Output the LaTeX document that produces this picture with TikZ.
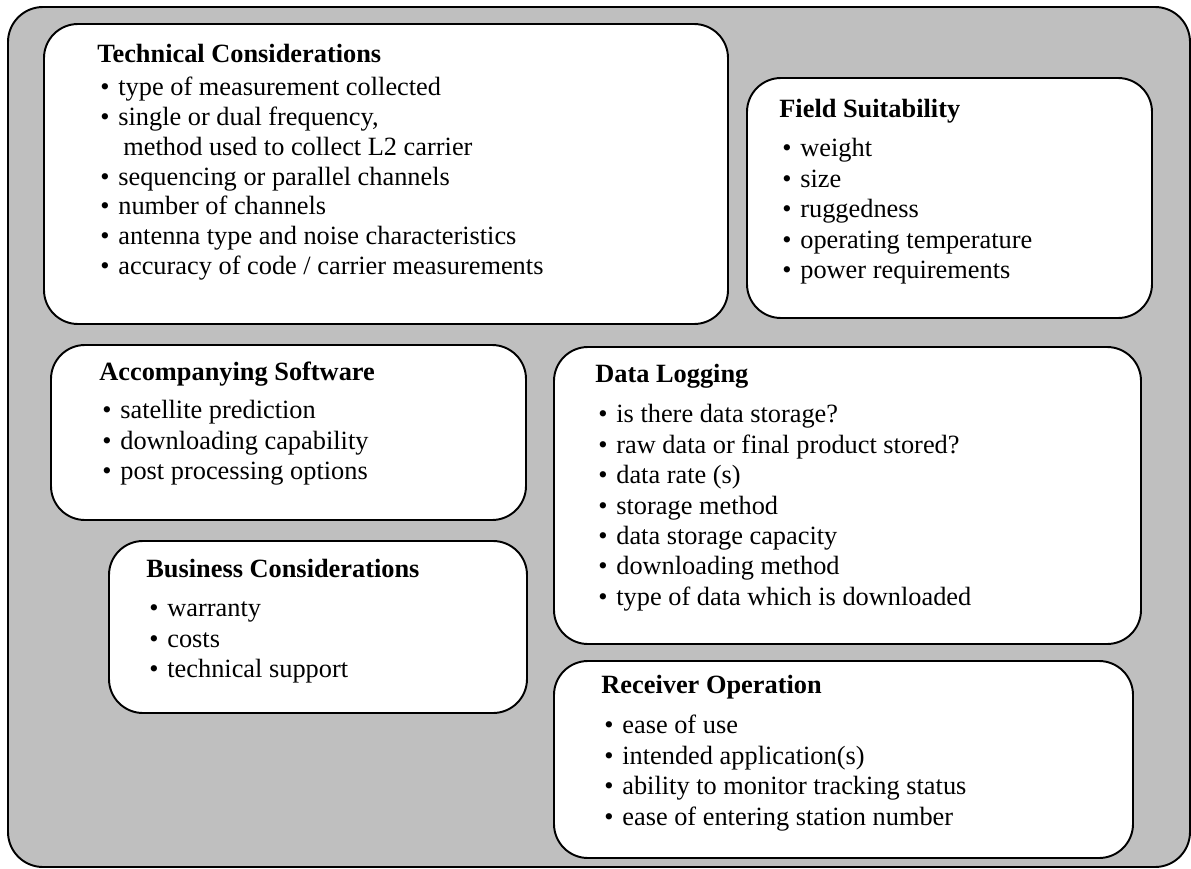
\documentclass[tikz,border=0pt]{standalone}
\usepackage{fontspec}
\setmainfont{Liberation Serif}
\usetikzlibrary{fit}
\definecolor{framegray}{RGB}{191,191,191}
\newcommand{\itm}[1]{\makebox[0.42cm][l]{\hspace{0.06cm}\textbullet}#1}
\newenvironment{pnllist}{\begin{tabular}[t]{@{}l@{}}}{\end{tabular}}

\begin{document}
\begin{tikzpicture}[
    x=0.02cm, y=-0.02cm,
    frm/.style={draw, line width=1.1pt, rounded corners=0.7cm, fill=framegray, inner sep=0pt},
    pnl/.style={draw, line width=1.1pt, rounded corners=0.68cm, fill=white, inner sep=0pt},
    lst/.style={anchor=base west, inner sep=0pt, font=\fontsize{15}{17.3}\selectfont}
]
\useasboundingbox (0,0) rectangle (1191,869);
\node[frm, fit={(8,7) (1190,867)}] (frame) {};

\node[pnl, fit={(44,24) (728,324)}] (tech) {};
\node[pnl, fit={(747,78) (1152,318)}] (field) {};
\node[pnl, fit={(51,345) (526,520)}] (soft) {};
\node[pnl, fit={(554,347) (1141,644)}] (dlog) {};
\node[pnl, fit={(109,541) (527,713)}] (biz) {};
\node[pnl, fit={(554,661) (1133,858)}] (recv) {};

\node[lst, font=\fontsize{15}{17}\selectfont] (techtxt) at ([shift={(54,39)}]tech.north west)
    {\begin{pnllist}
     \textbf{Technical Considerations}\\[2pt]
     \itm{type of measurement collected}\\
     \itm{single or dual frequency,}\\
     \hspace{0.52cm}method used to collect L2 carrier\\
     \itm{sequencing or parallel channels}\\
     \itm{number of channels}\\
     \itm{antenna type and noise characteristics}\\
     \itm{accuracy of code / carrier measurements}
     \end{pnllist}};
\node[lst] (fieldtxt) at ([shift={(33,40)}]field.north west)
    {\begin{pnllist}
     \textbf{Field Suitability}\\[5.4pt]
     \itm{weight}\\
     \itm{size}\\
     \itm{ruggedness}\\
     \itm{operating temperature}\\
     \itm{power requirements}
     \end{pnllist}};
\node[lst] (softtxt) at ([shift={(49,36)}]soft.north west)
    {\begin{pnllist}
     \textbf{Accompanying Software}\\[4.8pt]
     \itm{satellite prediction}\\
     \itm{downloading capability}\\
     \itm{post processing options}
     \end{pnllist}};
\node[lst] (dlogtxt) at ([shift={(42,36)}]dlog.north west)
    {\begin{pnllist}
     \textbf{Data Logging}\\[6pt]
     \itm{is there data storage?}\\
     \itm{raw data or final product stored?}\\
     \itm{data rate (s)}\\
     \itm{storage method}\\
     \itm{data storage capacity}\\
     \itm{downloading method}\\
     \itm{type of data which is downloaded}
     \end{pnllist}};
\node[lst] (biztxt) at ([shift={(38,37)}]biz.north west)
    {\begin{pnllist}
     \textbf{Business Considerations}\\[5.4pt]
     \itm{warranty}\\
     \itm{costs}\\
     \itm{technical support}
     \end{pnllist}};
\node[lst] (recvtxt) at ([shift={(48,33)}]recv.north west)
    {\begin{pnllist}
     \textbf{Receiver Operation}\\[6pt]
     \itm{ease of use}\\
     \itm{intended application(s)}\\
     \itm{ability to monitor tracking status}\\
     \itm{ease of entering station number}
     \end{pnllist}};
\end{tikzpicture}
\end{document}
